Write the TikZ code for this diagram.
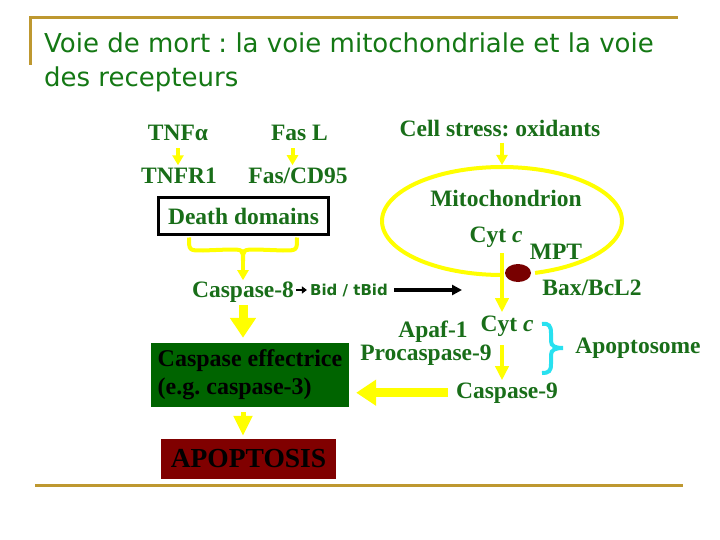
\documentclass[tikz,border=0pt]{standalone}
\usepackage{fontspec}
\setmainfont{Liberation Serif}
\newfontfamily\titlefont{DejaVu Sans}
\newfontfamily\bidfont{DejaVu Sans}
\usetikzlibrary{arrows.meta,calc}
\definecolor{gold}{RGB}{190,152,48}
\definecolor{tgreen}{RGB}{20,120,20}
\definecolor{lgreen}{RGB}{25,110,25}
\definecolor{effgreen}{RGB}{0,100,0}
\definecolor{apored}{RGB}{128,0,0}
\definecolor{dotred}{RGB}{120,0,0}
\definecolor{yel}{RGB}{255,255,0}
\definecolor{cyanb}{RGB}{40,225,240}
\frenchspacing
\begin{document}
\begin{tikzpicture}[x=1pt,y=-1pt,
  titletxt/.style={font=\titlefont\fontsize{26}{31}\selectfont, text=tgreen, inner sep=0, anchor=base west},
  lbl/.style={font=\fontsize{23.5}{28}\selectfont\bfseries, text=lgreen, inner sep=0, anchor=base},
  bidlbl/.style={font=\bidfont\fontsize{15}{18}\selectfont\bfseries, text=lgreen, inner sep=0, anchor=base},
  ddbox/.style={draw=black, line width=3pt, minimum width=170pt, minimum height=37pt, inner sep=0,
     font=\fontsize{23.5}{28}\selectfont\bfseries, text=lgreen},
  effbox/.style={fill=effgreen, minimum width=198pt, inner sep=0, minimum height=64pt,
     align=left, font=\fontsize{24}{28}\selectfont\bfseries, text=black},
  apobox/.style={fill=apored, minimum width=175pt, minimum height=40pt, inner sep=0,
     font=\fontsize{27.5}{32}\selectfont\bfseries, text=black},
  sarr/.style={draw=yel, line width=4pt, -{Triangle[width=11pt,length=10pt]}},
  marr/.style={draw=yel, line width=4pt, -{Triangle[width=13pt,length=14pt]}},
  barr/.style={draw=yel, line width=9pt, -{Triangle[width=25pt,length=20pt]}},
  warr/.style={draw=yel, line width=5pt, -{Triangle[width=18pt,length=20pt]}},
  blarr/.style={draw=black, line width=3.5pt, -{Triangle[width=10pt,length=10pt]}},
  sblarr/.style={draw=black, line width=2pt, -{Triangle[width=7pt,length=5pt]}},
  ybrace/.style={draw=yel, line width=4pt},
  cbrace/.style={draw=cyanb, line width=4pt}
]
\useasboundingbox (0,0) rectangle (720,540);
\fill[white] (0,0) rectangle (720,540);

% frame lines
\draw[gold, line width=3pt] (30,65) -- (30,18) -- (678,18);
\draw[gold, line width=3pt] (35,485) -- (683,485);

% title
\node[titletxt] (t1) at (44,53) {Voie de mort : la voie mitochondriale et la voie};
\node[titletxt] (t2) at (44,87) {des recepteurs};

% receptor pathway
\node[lbl] (tnfa) at (178,141) {TNFα};
\node[lbl] (fasl) at (299.5,141) {Fas L};
\node[lbl] (tnfr1) at (179,184) {TNFR1};
\node[lbl] (fascd) at (298,184) {Fas/CD95};
\node[ddbox] (dd) at (243.5,216) {Death domains};
\node[lbl] (casp8) at (243,297) {Caspase-8};
\node[bidlbl] (bid) at (349,295) {Bid / tBid};

% mitochondrial pathway
\node[lbl] (cell) at (500,137) {Cell stress: oxidants};
\node[lbl] (mito) at (506,207) {Mitochondrion};
\node[lbl] (cytc1) at (496,242) {Cyt \textit{c}};
\node[lbl] (mpt) at (556,259) {MPT};
\node[lbl] (bax) at (592,295) {Bax/BcL2};
\node[lbl] (apaf) at (433,337) {Apaf-1};
\node[lbl] (cytc2) at (507,331) {Cyt \textit{c}};
\node[lbl] (procasp) at (426,360) {Procaspase-9};
\node[lbl] (casp9) at (507,398) {Caspase-9};
\node[lbl] (aposome) at (638,353) {Apoptosome};

% boxes
\node[effbox] (eff) at (250,375) {Caspase effectrice\\(e.g. caspase-3)};
\node[apobox] (apo) at (248.5,459) {APOPTOSIS};

% mitochondrion ellipse
\coordinate (mitotop) at (502,167);
\coordinate (gap) at (502,273);
\coordinate (arrend) at (462,288);
\draw[yel, line width=4pt, domain=90:434, samples=150, variable=\t]
  plot ({502+120*cos(\t)},{221+54*sin(\t)});
\fill[dotred] (518,273) ellipse [x radius=13pt, y radius=9pt];

% small yellow arrows
\draw[sarr, shorten <=7pt, shorten >=3pt] (tnfa.south) -- (tnfa.south |- tnfr1.north);
\draw[sarr, shorten <=7pt, shorten >=3pt] ([xshift=-7pt]fasl.south) -- ([xshift=-7pt]fasl.south |- fascd.north);
\draw[sarr, shorten <=5pt, shorten >=2pt] (cell.south -| mitotop) -- (mitotop);

% brace under death domains
\coordinate (bl) at ($(dd.south)+(-54.5,1.5)$);
\coordinate (br) at ($(dd.south)+(53.5,1.5)$);
\coordinate (bm) at (243,261);
\draw[ybrace] (bl) .. controls ($(bl)+(0,13)$) .. ($(bl)+(14,13)$) -- (229,249.5) .. controls (243,249.5) .. (bm);
\draw[ybrace] (br) .. controls ($(br)+(0,13)$) .. ($(br)+(-14,13)$) -- (257,249.5) .. controls (243,249.5) .. (bm);
\draw[sarr, shorten >=1pt] ($(bm)+(0,-3)$) -- (casp8.north);

% Cyt c arrows
\draw[marr, shorten <=6pt, shorten >=3pt] (cytc1.south -| gap) -- (cytc2.north -| gap);
\draw[marr, shorten <=9pt, shorten >=2pt] (cytc2.south -| gap) -- (casp9.north -| gap);

% big arrows
\draw[barr, shorten <=3pt, shorten >=5pt] (casp8.south) -- (casp8.south |- eff.north);
\draw[barr, shorten <=8pt, shorten >=7pt] (casp9.west) -- (casp9.west -| eff.east);
\draw[warr, shorten <=5pt, shorten >=3pt] (casp8 |- eff.south) -- (casp8 |- apo.north);

% black arrows
\draw[sblarr, shorten <=2pt, shorten >=3pt] (casp8.east |- bid.east) -- (bid.west);
\draw[blarr, shorten <=6pt] (bid.east) -- (bid.east -| arrend);

% apoptosome brace
\draw[cbrace] (542,324) .. controls (549,323) and (551,326) .. (551,333) -- (551,341)
  .. controls (551,346) and (555,348) .. (563,348)
  .. controls (555,348) and (551,350) .. (551,355) -- (551,364)
  .. controls (551,371) and (549,373) .. (542,373);
\end{tikzpicture}
\end{document}
